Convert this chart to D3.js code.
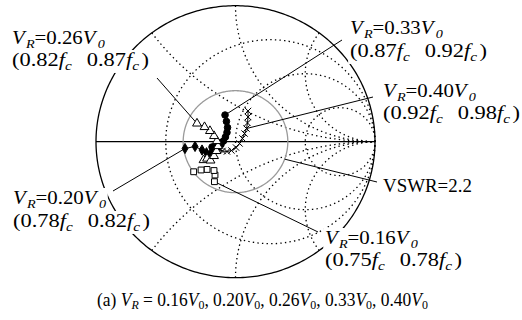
<!DOCTYPE html>
<html>
<head>
<meta charset="utf-8">
<script src="https://cdn.jsdelivr.net/npm/d3@7"></script>
<style>
  body { margin: 0; background: #fff; }
  svg text { font-family: "Liberation Serif", "Times New Roman", serif; fill: #000; }
</style>
</head>
<body>
<svg id="chart" width="522" height="320"></svg>
<script>
// reflection coefficient (Re, Im) of each sweep
const vr016 = [[-0.151,-0.294],[-0.147,-0.245],[-0.154,-0.212],[-0.204,-0.204],[-0.247,-0.208],[-0.300,-0.221]];
const vr020 = [[-0.362,-0.050],[-0.290,-0.035],[-0.240,-0.061],[-0.208,-0.081],[-0.183,-0.094],[-0.165,-0.083],
               [-0.151,-0.065],[-0.140,-0.043],[-0.125,-0.028],[-0.111,-0.017]];
const vr026 = [[-0.229,-0.135],[-0.204,-0.124],[-0.179,-0.138],[-0.154,-0.105],[-0.136,-0.068],[-0.125,-0.032],
               [-0.133,0.005],[-0.154,0.042],[-0.183,0.079],[-0.222,0.108],[-0.276,0.134]];
const vr033 = [[-0.075,0.196],[-0.065,0.149],[-0.057,0.104],[-0.061,0.068],[-0.072,0.035],[-0.086,0.005],
               [-0.104,-0.021],[-0.125,-0.039],[-0.147,-0.050],[-0.168,-0.039]];
const vr040 = [[0.090,0.226],[0.090,0.182],[0.086,0.138],[0.079,0.097],[0.065,0.060],[0.050,0.024],
               [0.029,-0.013],[0.004,-0.043],[-0.029,-0.065],[-0.061,-0.072],[-0.093,-0.068],[-0.118,-0.057]];

const vrLevels = ['0.16', '0.20', '0.26', '0.33', '0.40'];
const freqStart = ['0.75', '0.78', '0.82', '0.87', '0.92'];
const freqEnd = ['0.78', '0.82', '0.87', '0.92', '0.98'];
const vswr = 2.2;
const rCircles = [1/3, 1, 3];
const xArcs = [0.5, 1, 2];

const svg = d3.select('#chart');
const x = d3.scaleLinear().domain([-1, 1]).range([96, 375]);
const y = d3.scaleLinear().domain([1, -1]).range([5.7, 277.7]);
const line = d3.line().x(d => x(d[0])).y(d => y(d[1]));
const fs = 18;

// smith chart grid
const grid = svg.append('g').attr('fill', 'none').attr('stroke', '#000')
  .attr('stroke-width', 1.3).attr('stroke-dasharray', '1.4,3.2');
rCircles.forEach(r => {
  const c = r / (1 + r), a = 1 / (1 + r);
  const pts = d3.range(0, 361, 2).map(t => [c + a * Math.cos(t * Math.PI / 180), a * Math.sin(t * Math.PI / 180)]);
  grid.append('path').attr('d', line(pts));
});
xArcs.forEach(xv => {
  [xv, -xv].forEach(xx => {
    const pts = d3.range(0, 1, 0.005).map(t => {
      const r = t / (1 - t);
      const den = (r + 1) * (r + 1) + xx * xx;
      return [(r * r - 1 + xx * xx) / den, 2 * xx / den];
    });
    pts.push([1, 0]);
    grid.append('path').attr('d', line(pts));
  });
});

svg.append('line').attr('x1', x(-1)).attr('x2', x(1)).attr('y1', y(0)).attr('y2', y(0))
  .attr('stroke', '#000').attr('stroke-width', 1.2);

const unit = d3.range(0, 361, 1).map(t => [Math.cos(t * Math.PI / 180), Math.sin(t * Math.PI / 180)]);
svg.append('path').attr('d', line(unit)).attr('fill', 'none').attr('stroke', '#000').attr('stroke-width', 1.3);

const gv = (vswr - 1) / (vswr + 1);
svg.append('path').attr('d', line(unit.map(p => [p[0] * gv, p[1] * gv])))
  .attr('fill', 'none').attr('stroke', '#9a9a9a').attr('stroke-width', 1.3);

// rich text line (V_R, f_c ...), stretched to the width it has in the figure
function richLine(g, px, py, parts, width) {
  const t = g.append('text').attr('x', px).attr('y', py).attr('font-size', fs)
    .attr('font-family', 'Liberation Serif');
  let off = 0;
  parts.forEach(p => {
    const s = t.append('tspan').text(p.t);
    const target = p.sub ? fs * 0.22 : 0;
    if (target !== off) { s.attr('dy', target - off); off = target; }
    if (p.i) s.attr('font-style', 'italic');
    if (p.sub) s.attr('font-size', fs * 0.68);
    if (p.dx) s.attr('dx', p.dx);
  });
  const b = t.node().getBBox();
  const sx = width / b.width;
  g.attr('transform', `translate(${px},0) scale(${sx},1) translate(${-px},0)`);
  g.insert('rect', 'text').attr('x', b.x - 1.5).attr('y', b.y).attr('width', b.width + 3)
    .attr('height', b.height).attr('fill', '#fff');
  return t;
}

const labelPos = [[325, 244, 266], [13, 204, 227], [12, 44, 66], [350, 34, 57], [383, 97, 119]];
const leaderFrom = [[318, 232], [113, 191], [157, 78], [342, 40], [373, 97]];
const series = [vr016, vr020, vr026, vr033, vr040];
const leaderIdx = [0, 0, vr026.length - 1, 0, 3];

const labels = svg.append('g');
vrLevels.forEach((v, i) => {
  const [lx, l1, l2] = labelPos[i];
  richLine(labels.append('g'), lx, l1,
    [{t: 'V', i: true}, {t: 'R', i: true, sub: true, dx: 1}, {t: '=' + v}, {t: 'V', i: true}, {t: '0', i: true, sub: true, dx: 2}], 93);
  richLine(labels.append('g'), lx, l2,
    [{t: '(' + freqStart[i]}, {t: 'f', i: true}, {t: 'c', i: true, sub: true},
     {t: freqEnd[i], dx: 12}, {t: 'f', i: true}, {t: 'c', i: true, sub: true}, {t: ')', dx: 2}], 137);
});
richLine(labels.append('g'), 383, 192, [{t: 'VSWR=' + vswr}], 89);

// leader lines
const leaders = svg.append('g').attr('stroke', '#000').attr('stroke-width', 1);
series.forEach((s, i) => {
  const p = s[leaderIdx[i]];
  leaders.append('line').attr('x1', leaderFrom[i][0]).attr('y1', leaderFrom[i][1])
    .attr('x2', x(p[0])).attr('y2', y(p[1]));
});
const va = -20 * Math.PI / 180;
leaders.append('line').attr('x1', 377).attr('y1', 182)
  .attr('x2', x(gv * Math.cos(va))).attr('y2', y(gv * Math.sin(va)));

// sweeps
const joined = [false, true, true, true, true];
series.forEach((s, i) => {
  if (joined[i]) svg.append('path').attr('d', line(s)).attr('fill', 'none').attr('stroke', '#000').attr('stroke-width', 1);
});
const symbols = [
  {type: d3.symbolSquare, size: 34, fill: '#fff'},
  {type: d3.symbolDiamond, size: 30, fill: '#000'},
  {type: d3.symbolTriangle, size: 34, fill: '#fff'},
  {type: d3.symbolCircle, size: 34, fill: '#000'},
  {type: d3.symbolTimes, size: 28, fill: 'none'}
];
[1, 3, 4, 2, 0].forEach(i => {
  const sym = symbols[i];
  svg.append('g').selectAll('path').data(series[i]).join('path')
    .attr('transform', d => `translate(${x(d[0])},${y(d[1])})`)
    .attr('d', d3.symbol().type(sym.type).size(sym.size))
    .attr('fill', sym.fill).attr('stroke', '#000').attr('stroke-width', 1);
});

// caption
const capG = svg.append('g');
const cap = capG.append('text').attr('x', 97).attr('y', 306).attr('font-size', 19)
  .attr('font-family', 'Liberation Serif');
cap.append('tspan').text('(a) ');
cap.append('tspan').text('V').attr('font-style', 'italic');
cap.append('tspan').text('R').attr('font-style', 'italic').attr('font-size', 13).attr('dy', 3);
cap.append('tspan').text(' = ').attr('dy', -3);
vrLevels.forEach((v, i) => {
  cap.append('tspan').text(v);
  cap.append('tspan').text('V').attr('font-style', 'italic');
  cap.append('tspan').text('0').attr('font-size', 13).attr('dy', 3);
  cap.append('tspan').text(i < vrLevels.length - 1 ? ', ' : '').attr('dy', -3);
});
const cw = cap.node().getBBox().width;
capG.attr('transform', `translate(97,0) scale(${331 / cw},1) translate(-97,0)`);
</script>
</body>
</html>
